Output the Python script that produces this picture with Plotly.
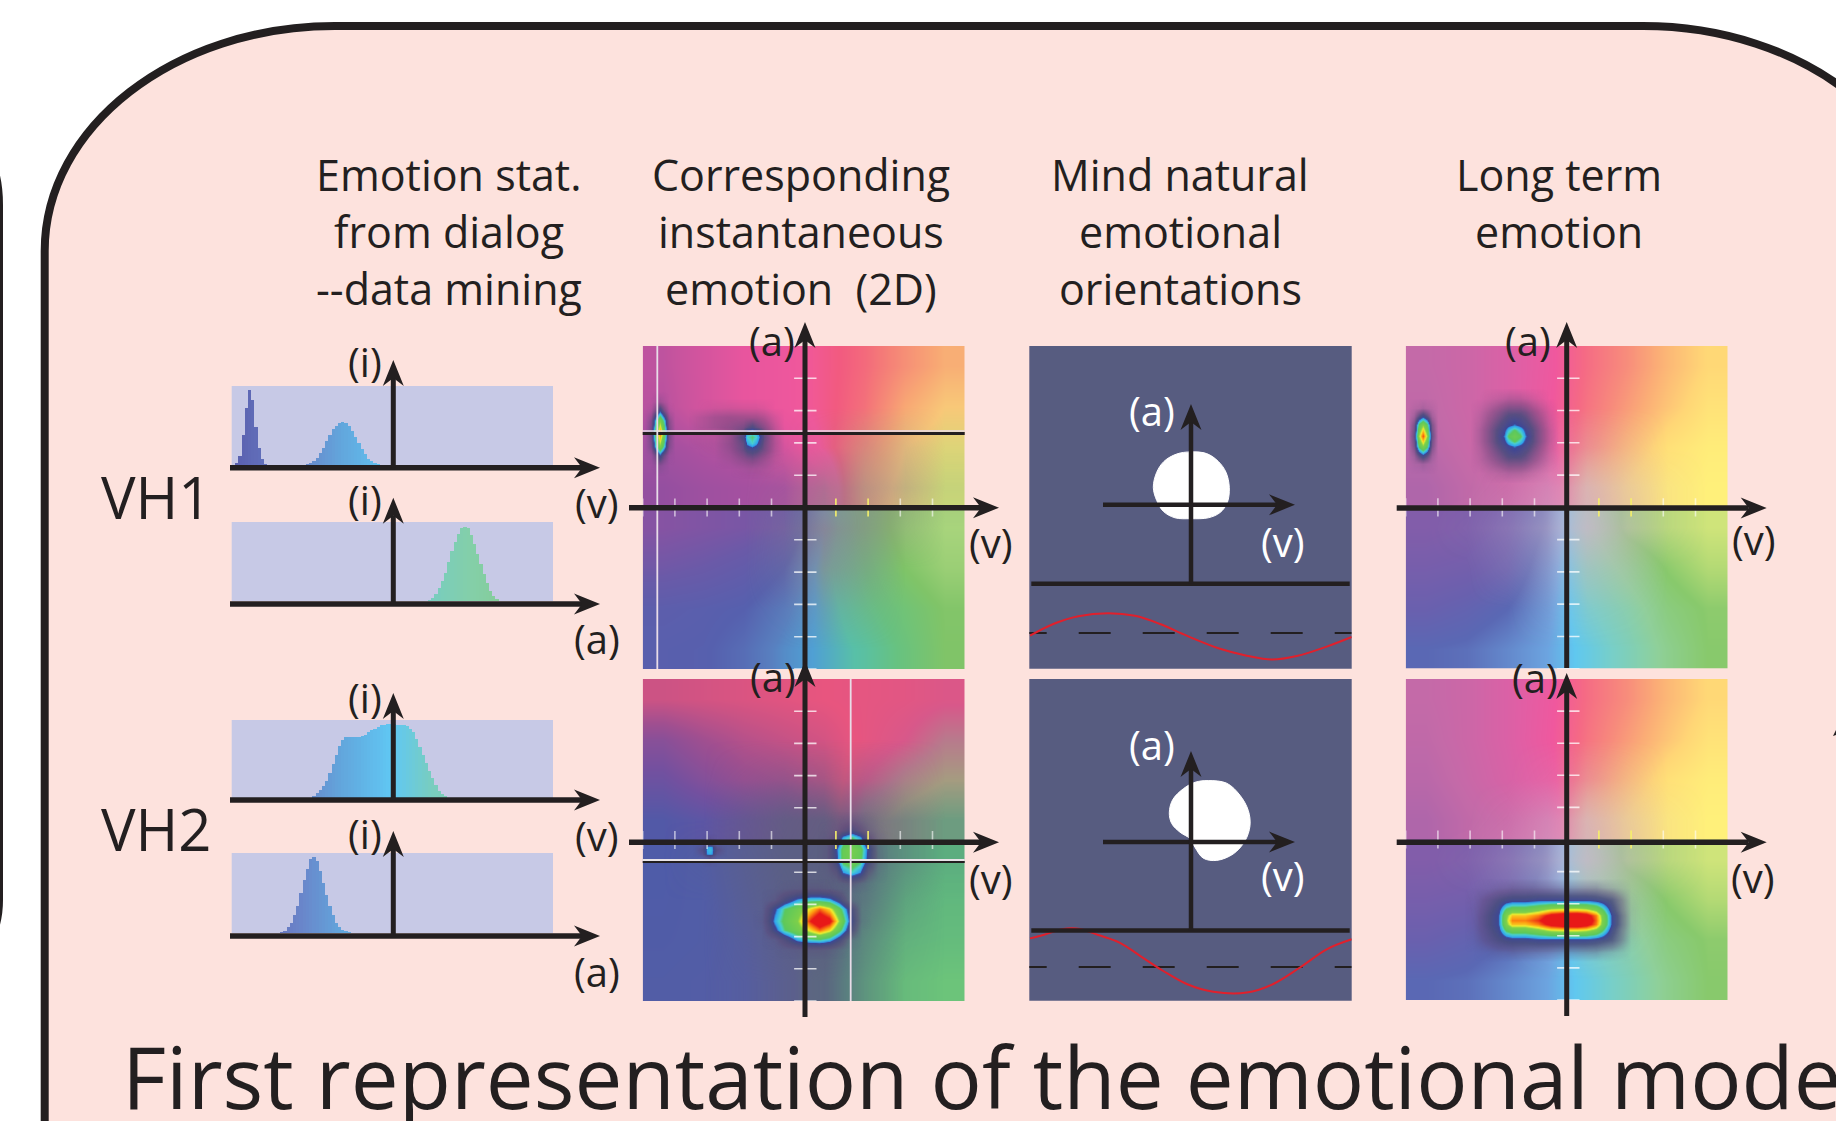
import plotly.graph_objects as go

W, H = 1836, 1121
INK = "#231f20"
FONT = "Open Sans"

# ---------- histogram data (bin index, height as a share of the panel) ----------
HIST_BINS = 100
h1_bins = list(range(0, 11)) + list(range(23, 46))
h1_vals = [.0, .03, .12, .38, .72, .95, .82, .48, .22, .07, .01,
           .01, .03, .05, .09, .15, .22, .30, .38, .45, .50, .53, .54, .53, .49, .43, .36, .28, .20, .14, .08, .05, .03, .01]
h2_bins = list(range(61, 83))
h2_vals = [.01, .04, .09, .16, .25, .36, .50, .63, .75, .85, .92, .94, .92, .84, .72, .60, .47, .34, .23, .13, .06, .02]
h3_bins = list(range(25, 67))
h3_vals = [.02, .06, .10, .15, .22, .32, .44, .55, .67, .75, .78, .785, .785, .78, .78, .79, .81, .84, .87, .89, .91,
           .93, .94, .945, .945, .945, .94, .935, .93, .92, .89, .85, .76, .66, .55, .45, .35, .26, .17, .09, .05, .02]
h4_bins = list(range(15, 37))
h4_vals = [.01, .03, .07, .13, .22, .34, .50, .66, .80, .92, .95, .90, .78, .63, .48, .34, .23, .13, .07, .04, .02, .01]
hist_scale = [[0, "#5a5fae"], [.2, "#6a82c8"], [.34, "#62a6dc"], [.5, "#60c8f4"], [.62, "#78cdc0"], [.75, "#84cfa8"], [1, "#86c880"]]

# ---------- colour fields: 8 columns by 4 rows per half, listed from the top row down ----------
c21_top_scale = [[0, "#8a4fa0"], [.15, "#a850a0"], [.25, "#c8549e"], [.38, "#e8559e"], [.48, "#f0589c"], [.55, "#f25a80"],
                 [.65, "#f47a78"], [.8, "#f8a874"], [.9, "#f8c878"], [1, "#cbdc78"]]
c21_top = [[.22, .30, .38, .44, .52, .60, .72, .82],
           [.20, .30, .38, .44, .52, .62, .80, .90],
           [.12, .18, .22, .30, .50, .70, .90, .96],
           [.05, .10, .13, .15, .30, .80, .95, 1]]
c21_bot_scale = [[0, "#8a52a2"], [.15, "#6a5aa8"], [.3, "#5660ae"], [.42, "#5880c0"], [.5, "#50a0d4"], [.58, "#58c0a8"],
                 [.7, "#68c280"], [.85, "#80c468"], [1, "#a8d47c"]]
c21_bot = [[.02, .05, .08, .14, .50, .74, .92, 1],
           [.12, .15, .20, .30, .56, .70, .85, .95],
           [.25, .27, .30, .40, .53, .66, .76, .86],
           [.28, .29, .35, .45, .52, .60, .72, .85]]
c21_veil_color = "#94808a"
c21_veil = [[0, 0, 0, 0, 0, 0, 0, 0], [0, 0, 0, 0, 0, 0, 0, 0],
            [0, 0, 0, 0, .1, .3, .25, 0], [0, 0, 0, .1, .55, .6, .4, .1],
            [0, 0, 0, .25, .8, .55, .2, 0], [0, 0, 0, .2, .6, .35, 0, 0],
            [0, 0, 0, .05, .25, .12, 0, 0], [0, 0, 0, 0, 0, 0, 0, 0]]

c22_top_scale = [[0, "#4d5aa8"], [.15, "#74509f"], [.3, "#a04f90"], [.42, "#cc5384"], [.5, "#e8557f"], [.6, "#d8588a"],
                 [.72, "#b87a8c"], [.85, "#a59c80"], [1, "#6ea080"]]
c22_top = [[.42, .44, .46, .48, .50, .52, .54, .58],
           [.22, .30, .36, .40, .44, .52, .60, .72],
           [.12, .20, .28, .32, .40, .60, .76, .85],
           [.02, .06, .12, .20, .34, .78, .92, 1]]
c22_bot_scale = [[0, "#4f5ca8"], [.5, "#5c60a0"], [.6, "#5f7f85"], [.75, "#5ab080"], [1, "#6cc47a"]]
c22_bot = [[0, .10, .30, .45, .55, .78, .80, .78],
           [.02, .10, .25, .45, .60, .80, .82, .85],
           [.05, .10, .25, .45, .62, .82, .88, .90],
           [.10, .15, .25, .45, .65, .85, .95, 1]]
c22_veil_color = "#5b5f80"
c22_veil = [[0, 0, 0, 0, 0, 0, 0, 0], [0, 0, 0, 0, 0, 0, 0, 0],
            [0, 0, .1, .25, .3, .25, .1, 0], [0, 0, .45, .8, .9, .7, .4, .05],
            [0, .1, .5, .85, .95, .8, .4, .05], [0, 0, .4, .8, .95, .7, .2, 0],
            [0, 0, .2, .7, .95, .5, .1, 0], [0, 0, .1, .55, .85, .4, .05, 0]]

c4_top_scale = [[0, "#9a62ac"], [.2, "#c46aa8"], [.35, "#e05fa5"], [.45, "#f0589e"], [.55, "#f56a85"], [.65, "#f78a7c"],
                [.75, "#fbae76"], [.87, "#ffd676"], [1, "#fff07a"]]
c4_top = [[.20, .24, .32, .42, .56, .66, .78, .88],
          [.18, .24, .32, .43, .58, .70, .82, .93],
          [.15, .22, .30, .40, .62, .78, .92, .98],
          [.10, .18, .24, .32, .75, .88, .97, 1]]
c4_bot_scale = [[0, "#8a5ca8"], [.2, "#6a60ae"], [.3, "#5a68b4"], [.45, "#6ca4e0"], [.52, "#60c8f0"], [.62, "#78cfc8"],
                [.75, "#8fd09a"], [.87, "#88c96c"], [1, "#cfe47a"]]
c4_bot = [[.05, .08, .14, .32, .72, .90, .96, 1],
          [.12, .14, .20, .38, .66, .78, .88, .95],
          [.20, .24, .30, .42, .60, .70, .82, .88],
          [.30, .32, .38, .45, .55, .66, .78, .87]]
c4_veil_color = "#ccb6cc"
c4_veil = [[0, 0, 0, 0, 0, 0, 0, 0], [0, 0, 0, 0, 0, 0, 0, 0],
           [0, 0, 0, .1, .25, .15, 0, 0], [0, 0, .1, .4, .7, .4, .1, 0],
           [0, .05, .25, .55, .8, .5, .1, 0], [0, 0, .15, .32, .42, .28, 0, 0],
           [0, 0, 0, .1, .14, .08, 0, 0], [0, 0, 0, 0, 0, 0, 0, 0]]

# ---------- density blobs on the colour fields ----------
blob_scale = [[0, "rgba(90,80,130,0)"], [.1, "rgba(90,70,120,.45)"], [.22, "rgba(72,76,125,.9)"], [.32, "rgba(60,70,150,1)"],
              [.345, "#2f9ff0"], [.42, "#48d0d0"], [.47, "#5cc85c"], [.62, "#7fd04a"], [.68, "#f0f030"], [.76, "#ff9a10"],
              [.86, "#e81818"], [1, "#e81818"]]
a_x = [-.99, -.95, -.92, -.897, -.87, -.84, -.80]
a_y = [.66, .60, .54, .46, .38, .32, .26]
a_z = [[0, 0, .03, .06, .03, 0, 0],
       [0, .02, .15, .3, .15, .02, 0],
       [0, .1, .42, .6, .42, .1, 0],
       [0, .14, .55, .8, .55, .14, 0],
       [0, .1, .42, .6, .42, .1, 0],
       [0, .02, .15, .3, .15, .02, 0],
       [0, 0, .03, .06, .03, 0, 0]]
b_x = [-.66, -.56, -.46, -.38, -.35, -.323, -.295, -.25, -.18, -.12]
b_y = [.62, .56, .5, .47, .436, .40, .36, .3, .24]
b_z = [[0, .02, .03, .03, .03, .03, .03, .02, 0, 0],
       [.03, .08, .1, .1, .1, .1, .1, .08, .03, 0],
       [.03, .08, .12, .16, .2, .24, .2, .14, .05, 0],
       [.02, .04, .1, .2, .36, .4, .36, .18, .06, 0],
       [.01, .02, .1, .24, .42, .46, .42, .2, .06, 0],
       [.01, .02, .1, .2, .36, .42, .36, .18, .06, 0],
       [0, .01, .08, .18, .24, .26, .24, .16, .05, 0],
       [0, 0, .04, .1, .12, .14, .12, .08, .02, 0],
       [0, 0, 0, .02, .03, .03, .03, .02, 0, 0]]
c_x = [-.26, -.18, -.12, -.04, .04, .1, .16, .22, .28, .36]
c_y = [-.3, -.37, -.43, -.5, -.56, -.62, -.68]
c_z = [[0, 0, .02, .04, .06, .06, .04, .02, 0, 0],
       [0, .06, .22, .36, .42, .42, .38, .24, .04, 0],
       [0, .3, .46, .56, .7, .8, .7, .5, .28, 0],
       [.03, .36, .5, .62, .86, .98, .9, .62, .34, .02],
       [0, .28, .46, .56, .7, .8, .7, .5, .26, 0],
       [0, .04, .18, .36, .42, .44, .38, .22, .04, 0],
       [0, 0, .02, .04, .06, .06, .04, .02, 0, 0]]
d_x = [.14, .2, .24, .298, .35, .4, .46]
d_y = [.12, .06, .02, -.06, -.12, -.2, -.27]
d_z = [[0, .02, .05, .08, .05, .02, 0],
       [.01, .06, .14, .22, .14, .06, .01],
       [.03, .14, .36, .46, .36, .14, .03],
       [.05, .3, .52, .58, .52, .3, .05],
       [.05, .28, .52, .56, .5, .28, .05],
       [.02, .12, .34, .42, .34, .12, .02],
       [0, .01, .05, .1, .05, .01, 0]]
e_x = [-.63, -.6, -.586, -.57, -.54]
e_y = [-.02, -.04, -.062, -.085, -.105]
e_z = [[0, .08, .14, .08, 0], [.08, .34, .37, .34, .08], [.14, .37, .39, .37, .14], [.08, .34, .37, .34, .08], [0, .08, .14, .08, 0]]
f_x = [-.99, -.95, -.92, -.897, -.87, -.84, -.80]
f_y = [.62, .57, .51, .444, .38, .32, .27]
f_z = [[0, .02, .03, .05, .03, .02, 0],
       [0, .06, .2, .28, .2, .06, 0],
       [0, .14, .5, .62, .5, .14, 0],
       [0, .18, .64, .82, .64, .18, 0],
       [0, .14, .5, .62, .5, .14, 0],
       [0, .06, .2, .28, .2, .06, 0],
       [0, .02, .03, .05, .03, .02, 0]]
g_x = [-.54, -.45, -.39, -.36, -.327, -.29, -.26, -.2, -.11]
g_y = [.68, .59, .51, .48, .444, .41, .38, .3, .21]
g_z = [[0, .03, .05, .06, .06, .06, .05, .03, 0],
       [.03, .12, .18, .2, .2, .2, .18, .12, .03],
       [.05, .18, .26, .3, .34, .3, .26, .18, .05],
       [.06, .2, .3, .4, .48, .4, .3, .2, .06],
       [.06, .2, .34, .48, .54, .48, .34, .2, .06],
       [.06, .2, .3, .4, .48, .4, .3, .2, .06],
       [.05, .18, .26, .3, .34, .3, .26, .18, .05],
       [.03, .12, .18, .2, .2, .2, .18, .12, .03],
       [0, .03, .05, .06, .06, .06, .05, .03, 0]]
h_x = [-.58, -.5, -.43, -.38, -.34, -.26, -.18, -.1, -.02, .06, .12, .18, .22, .28, .34, .40]
h_y = [-.3, -.37, -.44, -.47, -.5, -.53, -.56, -.63, -.7]
h_z = [[0, .02, .05, .06, .08, .08, .08, .08, .08, .08, .08, .08, .06, .04, .02, 0],
       [.02, .12, .2, .24, .26, .26, .28, .28, .28, .28, .28, .26, .24, .2, .1, .01],
       [.03, .16, .28, .5, .56, .56, .62, .7, .72, .72, .7, .62, .5, .26, .12, .02],
       [.03, .18, .3, .6, .72, .72, .78, .9, .96, .98, .92, .78, .6, .3, .14, .02],
       [.03, .18, .3, .62, .78, .78, .84, .96, 1, 1, .98, .8, .62, .3, .14, .02],
       [.03, .18, .3, .6, .72, .72, .78, .9, .96, .98, .92, .78, .6, .3, .14, .02],
       [.03, .16, .28, .5, .56, .56, .62, .7, .72, .72, .7, .62, .5, .26, .12, .02],
       [.02, .12, .2, .24, .26, .26, .28, .28, .28, .28, .28, .26, .24, .2, .1, .01],
       [0, .02, .05, .06, .08, .08, .08, .08, .08, .08, .08, .08, .06, .04, .02, 0]]

# ---------- tick positions on the colour fields ----------
tick_neg = [-1, -.8, -.6, -.4, -.2]
tick_warm = [.2, .4]
tick_pos = [.6, .8]
tick_v = [.8, .6, .4, .2, -.2, -.4, -.6, -.8, -1]

# ---------- mind panels: white regions, red curves, levels ----------
m1_blob_x = [161.7, 177.4, 189, 196.7, 200, 198, 190.7, 179, 161.7, 145.7, 134, 127.4, 124, 127.4, 134.7, 147.4, 161.7]
m1_blob_y = [105.9, 107.6, 115.4, 126.3, 141.4, 156.6, 166.6, 171.8, 172.7, 171.8, 165.3, 154.4, 141.4, 126.3, 115.4, 108, 105.9]
m1_red_x = [.7, 24, 49, 79, 105.7, 130.7, 157.4, 190.7, 217.4, 242.4, 267.4, 297.4, 322.4]
m1_red_y = [289.7, 278, 270.2, 267.2, 269.8, 278, 289.7, 302.8, 309.7, 313.6, 310.1, 300.6, 291]
m1_dash_y = 287
m1_rule_y = 237.7
m2_blob_x = [179, 197.4, 210.7, 219, 220.7, 215.7, 204, 187.4, 174, 165.7, 160.7, 150.7, 142.4, 140, 143.4, 154, 165.7, 179]
m2_blob_y = [101.6, 104.2, 116.3, 131.5, 146.7, 161.9, 174.9, 181.4, 179.2, 168.4, 159.7, 153.2, 144.5, 133.7, 120.7, 109.8, 103.3, 101.6]
m2_red_x = [.7, 14, 34, 50.7, 69, 90.7, 110.7, 134, 157.4, 184, 217.4, 244, 270.7, 297.4, 322.4]
m2_red_y = [259.4, 256, 249.9, 249.9, 256, 263.8, 276.8, 292, 305, 312.8, 313.6, 305, 288.5, 270.3, 260.3]
m2_dash_y = 288
m2_rule_y = 251.6

# ---------- text ----------
header_1 = ["Emotion stat.", "from dialog", "--data mining"]
header_2 = ["Corresponding", "instantaneous", "emotion  (2D)"]
header_3 = ["Mind natural", "emotional", "orientations"]
header_4 = ["Long term", "emotion"]
title_text = "First representation of the emotional mode"

# ---------- page geometry (pixels) ----------
hist_boxes = [(231.7, 386, 553, 465), (231.7, 522, 553, 601), (231.7, 720, 553, 798), (231.7, 853, 553, 933)]
c2_boxes = [(642.7, 346, 964.7, 669), (642.7, 679, 964.7, 1001)]
c3_boxes = [(1029.3, 346, 1351.7, 668.7), (1029.3, 679, 1351.7, 1000.7)]
c4_boxes = [(1405.7, 346, 1727.7, 668.7), (1405.7, 679, 1727.7, 1000)]

fig = go.Figure()
layout = dict(width=W, height=H, margin=dict(l=0, r=0, t=0, b=0), paper_bgcolor="white",
              plot_bgcolor="rgba(0,0,0,0)", showlegend=False, bargap=0)
shapes, notes = [], []
axis_count = 0


def new_axes(box, xr, yr):
    global axis_count
    axis_count += 1
    k = "" if axis_count == 1 else str(axis_count)
    x0, y0, x1, y1 = box
    layout["xaxis" + k] = dict(domain=[x0 / W, x1 / W], range=xr, visible=False, fixedrange=True,
                               anchor="y" + k)
    layout["yaxis" + k] = dict(domain=[1 - y1 / H, 1 - y0 / H], range=yr, visible=False, fixedrange=True,
                               anchor="x" + k)
    return "x" + k, "y" + k


def px(x):
    return x / W


def py(y):
    return 1 - y / H


def rule(x0, y0, x1, y1, width=5.5, color=INK):
    shapes.append(dict(type="line", xref="paper", yref="paper", x0=px(x0), y0=py(y0), x1=px(x1), y1=py(y1),
                       line=dict(color=color, width=width)))


def head(x, y, direction):
    L, N, R = 26, 18, 10.5
    if direction == "right":
        pts = [(x, y), (x - L, y - R), (x - N, y), (x - L, y + R)]
    else:
        pts = [(x, y), (x - R, y + L), (x, y + N), (x + R, y + L)]
    d = "M" + " L".join(f"{px(a):.5f},{py(b):.5f}" for a, b in pts) + " Z"
    shapes.append(dict(type="path", xref="paper", yref="paper", path=d, fillcolor=INK, line=dict(width=0)))


def h_arrow(x0, x1, y, width=5.5):
    rule(x0, y, x1 - 18, y, width)
    head(x1, y, "right")


def v_arrow(x, y_tip, y_end, width=5):
    rule(x, y_end, x, y_tip + 18, width)
    head(x, y_tip, "up")


def label(text, x, y, size=40, color=INK, align="center"):
    notes.append(dict(text=text, x=px(x), y=py(y), xref="paper", yref="paper", showarrow=False,
                      xanchor="center", yanchor="middle", align=align,
                      font=dict(family=FONT, size=size, color=color)))


def panel_rect(box, color):
    shapes.append(dict(type="rect", xref="paper", yref="paper", layer="below", x0=px(box[0]), x1=px(box[2]),
                       y0=py(box[1]), y1=py(box[3]), fillcolor=color, line=dict(width=0)))


def ringed(bx, by, bz, gap=.06):
    """Close a blob with a transparent ring so that its grid edge does not show."""
    xs = [bx[0] - gap] + list(bx) + [bx[-1] + gap]
    ys = [by[0] - gap] + list(by) + [by[-1] + gap]
    blank = [0] * len(xs)
    zs = [blank] + [[0] + list(r) + [0] for r in bz] + [blank]
    return xs, ys, zs


# page frame
f_l, f_t, f_r, rx, ry, k = 44.7, 26, 1933, 290, 225, .5523
frame = (f"M {px(f_l)},{py(1180)} L {px(f_l)},{py(f_t + ry)} "
         f"C {px(f_l)},{py(f_t + ry * (1 - k))} {px(f_l + rx * (1 - k))},{py(f_t)} {px(f_l + rx)},{py(f_t)} "
         f"L {px(f_r - rx)},{py(f_t)} "
         f"C {px(f_r - rx * (1 - k))},{py(f_t)} {px(f_r)},{py(f_t + ry * (1 - k))} {px(f_r)},{py(f_t + ry)} "
         f"L {px(f_r)},{py(1180)} Z")
shapes.append(dict(type="path", xref="paper", yref="paper", layer="below", path=frame, fillcolor="#fde2dd",
                   line=dict(color=INK, width=8)))
side = (f"M {px(-50)},{py(130)} Q {px(-1)},{py(140)} {px(-1)},{py(205)} L {px(-1)},{py(900)} "
        f"Q {px(-1)},{py(940)} {px(-30)},{py(965)}")
shapes.append(dict(type="path", xref="paper", yref="paper", layer="below", path=side,
                   line=dict(color=INK, width=8)))

# histograms
for box, bins, vals in zip(hist_boxes, [h1_bins, h2_bins, h3_bins, h4_bins], [h1_vals, h2_vals, h3_vals, h4_vals]):
    panel_rect(box, "#c7c9e6")
    xa, ya = new_axes(box, [-.5, HIST_BINS - .5], [0, 1])
    fig.add_trace(go.Bar(x=bins, y=vals, xaxis=xa, yaxis=ya, width=1, hoverinfo="skip",
                         marker=dict(color=bins, cmin=0, cmax=HIST_BINS - 1, colorscale=hist_scale, line=dict(width=0))))

# colour fields
edges_x = [-1, -.75, -.5, -.25, 0, .25, .5, .75, 1]
edges_top = [0, .25, .5, .75, 1]
edges_bot = [-1, -.75, -.5, -.25, 0]
edges_all = [-1, -.75, -.5, -.25, 0, .25, .5, .75, 1]


def colour_field(box, top, top_scale, bot, bot_scale, veil, veil_color, blobs):
    xa, ya = new_axes(box, [-1, 1], [-1, 1])
    fig.add_trace(go.Heatmap(x=edges_x, y=edges_top, z=top[::-1], xaxis=xa, yaxis=ya, zmin=0, zmax=1, zsmooth="best",
                             colorscale=top_scale, showscale=False, hoverinfo="skip"))
    fig.add_trace(go.Heatmap(x=edges_x, y=edges_bot, z=bot[::-1], xaxis=xa, yaxis=ya, zmin=0, zmax=1, zsmooth="best",
                             colorscale=bot_scale, showscale=False, hoverinfo="skip"))
    r, g, b = int(veil_color[1:3], 16), int(veil_color[3:5], 16), int(veil_color[5:7], 16)
    fig.add_trace(go.Heatmap(x=edges_x, y=edges_all, z=veil[::-1], xaxis=xa, yaxis=ya, zmin=0, zmax=1, zsmooth="best",
                             colorscale=[[0, f"rgba({r},{g},{b},0)"], [1, f"rgba({r},{g},{b},1)"]],
                             showscale=False, hoverinfo="skip"))
    for bx, by, bz in blobs:
        xs, ys, zs = ringed(bx, by[::-1], bz[::-1])
        fig.add_trace(go.Heatmap(x=xs, y=ys, z=zs, xaxis=xa, yaxis=ya, zmin=0, zmax=1, zsmooth="best",
                                 colorscale=blob_scale, showscale=False, hoverinfo="skip"))
    for xs, col in [(tick_neg, "rgba(255,255,255,.6)"), (tick_warm, "#f6f06a"), (tick_pos, "rgba(255,255,255,.6)")]:
        fig.add_trace(go.Scatter(x=xs, y=[0] * len(xs), xaxis=xa, yaxis=ya, mode="markers", hoverinfo="skip",
                                 marker=dict(symbol="line-ns", size=13, line=dict(color=col, width=1.6))))
    fig.add_trace(go.Scatter(x=[.01] * len(tick_v), y=tick_v, xaxis=xa, yaxis=ya, mode="markers", hoverinfo="skip",
                             marker=dict(symbol="line-ew", size=16, line=dict(color="rgba(255,255,255,.75)", width=1.6))))


colour_field(c2_boxes[0], c21_top, c21_top_scale, c21_bot, c21_bot_scale, c21_veil, c21_veil_color,
             [(a_x, a_y, a_z), (b_x, b_y, b_z)])
colour_field(c2_boxes[1], c22_top, c22_top_scale, c22_bot, c22_bot_scale, c22_veil, c22_veil_color,
             [(c_x, c_y, c_z), (d_x, d_y, d_z), (e_x, e_y, e_z)])
colour_field(c4_boxes[0], c4_top, c4_top_scale, c4_bot, c4_bot_scale, c4_veil, c4_veil_color,
             [(f_x, f_y, f_z), (g_x, g_y, g_z)])
colour_field(c4_boxes[1], c4_top, c4_top_scale, c4_bot, c4_bot_scale, c4_veil, c4_veil_color,
             [(h_x, h_y, h_z)])

# mind panels
for box, bx, by, rx_, ry_, dash_y, rule_y in [
    (c3_boxes[0], m1_blob_x, m1_blob_y, m1_red_x, m1_red_y, m1_dash_y, m1_rule_y),
    (c3_boxes[1], m2_blob_x, m2_blob_y, m2_red_x, m2_red_y, m2_dash_y, m2_rule_y),
]:
    panel_rect(box, "#575c80")
    xa, ya = new_axes(box, [0, box[2] - box[0]], [box[3] - box[1], 0])
    fig.add_trace(go.Scatter(x=bx, y=by, xaxis=xa, yaxis=ya, mode="lines", fill="toself", fillcolor="white",
                             line=dict(color="white", width=1, shape="spline", smoothing=1), hoverinfo="skip"))
    fig.add_trace(go.Scatter(x=[-14.6, box[2] - box[0]], y=[dash_y, dash_y], xaxis=xa, yaxis=ya, mode="lines",
                             line=dict(color=INK, width=1.8, dash="32px,32px"), hoverinfo="skip"))
    fig.add_trace(go.Scatter(x=rx_, y=ry_, xaxis=xa, yaxis=ya, mode="lines",
                             line=dict(color="#e0202c", width=2, shape="spline"), hoverinfo="skip"))
    rule(box[0] + 2, box[1] + rule_y, box[2] - 2, box[1] + rule_y, 4.5)

# crosshairs on the instantaneous panels
rule(642.7, 431, 964.7, 431, 1.5, "#e8dce8")
rule(642.7, 433.5, 964.7, 433.5, 3)
rule(657.3, 346, 657.3, 669, 1.8, "#e8dce8")
rule(642.7, 862, 964.7, 862, 2)
rule(642.7, 860, 964.7, 860, 2, "#e8e4e8")
rule(850.7, 679, 850.7, 1001, 1.8, "#e8dce8")

# axes of the histograms
h_ax = [467.7, 604, 800, 936]
v_tip = [360, 497.7, 693, 831]
for ya, tip in zip(h_ax, v_tip):
    h_arrow(230, 600, ya)
    v_arrow(393.3, tip, ya)

# axes of the colour fields
h_arrow(629, 999, 507.7)
h_arrow(629, 999, 842.3)
v_arrow(805, 322, 669)
v_arrow(805, 661, 1017)
h_arrow(1396.7, 1766.7, 508)
h_arrow(1396.7, 1766.7, 842.3)
v_arrow(1566.7, 322, 668)
v_arrow(1566.7, 673, 1016)

# axes of the mind panels
h_arrow(1103, 1295, 504.8, 4.5)
v_arrow(1191, 404, 583.7, 4.5)
h_arrow(1103, 1295, 842, 4.5)
v_arrow(1191, 751, 930.6, 4.5)

# small arrow tip at the right edge
shapes.append(dict(type="path", xref="paper", yref="paper",
                   path=f"M {px(1836)},{py(730)} L {px(1833)},{py(736)} L {px(1836)},{py(735)} Z",
                   fillcolor=INK, line=dict(width=0)))

# text
for lines, cx, y_first in [(header_1, 448.6, 174), (header_2, 801, 174), (header_3, 1180, 174), (header_4, 1558.5, 174)]:
    for i, line in enumerate(lines):
        label(line, cx, y_first + i * 57.5, 43)
label("VH1", 156, 497, 58)
label("VH2", 156, 828, 58)
for t, x, y in [("(i)", 365, 362), ("(v)", 597, 502), ("(a)", 597, 638), ("(i)", 365, 499), ("(i)", 365, 697),
                ("(v)", 597, 835), ("(i)", 365, 833), ("(a)", 597, 971),
                ("(a)", 772, 340), ("(v)", 991, 542), ("(a)", 773, 676), ("(v)", 991, 878),
                ("(a)", 1528, 340), ("(v)", 1754, 539), ("(a)", 1535, 677), ("(v)", 1753, 877)]:
    label(t, x, y)
for t, x, y in [("(a)", 1152, 411), ("(v)", 1283, 541), ("(a)", 1152, 745), ("(v)", 1283, 875)]:
    label(t, x, y, color="white")
notes.append(dict(text=title_text, x=px(120), y=py(1076), xref="paper", yref="paper", showarrow=False,
                  xanchor="left", yanchor="middle", font=dict(family=FONT, size=85.4, color=INK)))

layout["shapes"] = shapes
layout["annotations"] = notes
fig.update_layout(**layout)
fig.write_html("out.html", post_script="document.body.style.margin='0';", config={"displayModeBar": False})
